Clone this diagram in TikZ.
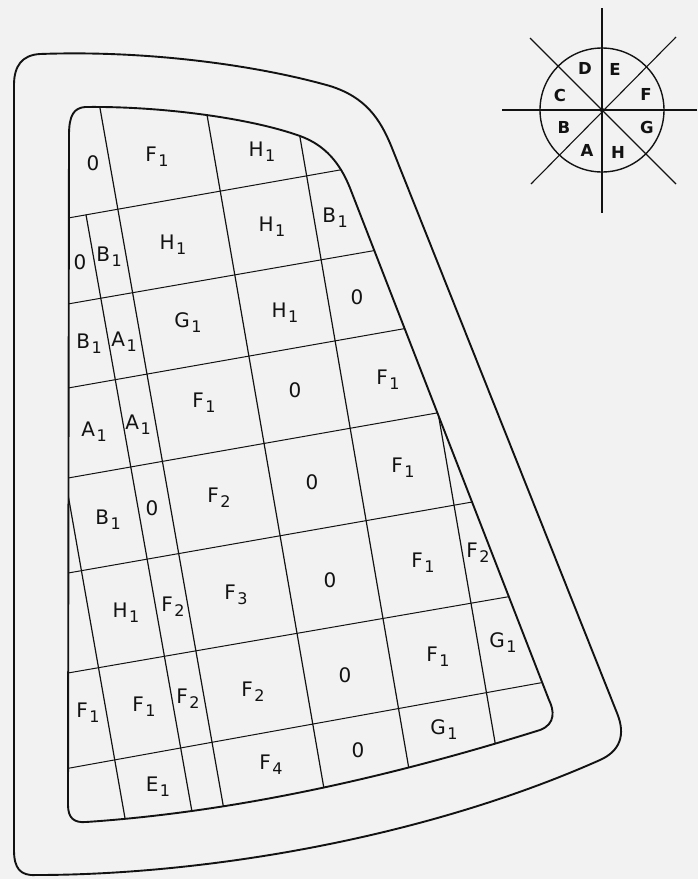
\documentclass[tikz,border=0pt]{standalone}
\usepackage{fontspec}
\newfontfamily\lfont{DejaVu Sans}
\definecolor{ink}{RGB}{18,18,18}
\definecolor{bg}{RGB}{242,242,242}
\newcommand{\labsub}[2]{#1\kern1.5pt\raisebox{-5pt}{\fontsize{16pt}{16pt}\selectfont #2}}
\begin{document}
\begin{tikzpicture}[x=1pt,y=-1pt,
  boundline/.style={line width=1.9pt, draw=ink, line join=round},
  rowline/.style={line width=1.0pt, draw=ink},
  colline/.style={line width=1.2pt, draw=ink},
  compline/.style={line width=1.1pt, draw=ink},
  lab/.style={font=\lfont\fontsize{20pt}{20pt}\selectfont, inner sep=0pt, text=ink},
  clab/.style={font=\lfont\bfseries\fontsize{16.5pt}{16.5pt}\selectfont, inner sep=0pt, text=ink}]
\fill[bg] (0,0) rectangle (698,879);
\useasboundingbox (0,0) rectangle (698,879);

% outer boundary
\draw[boundline] (14,85) -- (14,850) .. controls (14,868) and (20,876) .. (36,875)
  .. controls (200,875) and (420,840) .. (600,760)
  .. controls (620,751) and (626,735) .. (617,713)
  -- (392,148) .. controls (380,118) and (365,97) .. (330,86)
  .. controls (260,66) and (150,50) .. (40,54)
  .. controls (22,55) and (14,66) .. (14,85) -- cycle;

% grid, clipped to the inner boundary
\begin{scope}
\clip (69,135) -- (68,805) .. controls (68,818) and (74,823) .. (86,822)
  .. controls (235,812) and (390,777) .. (540,730)
  .. controls (556,724) and (554,710) .. (549,700)
  -- (350,188) .. controls (340,163) and (325,145) .. (300,136)
  .. controls (250,118) and (160,106) .. (85,107)
  .. controls (74,108) and (69,115) .. (69,135) -- cycle;
% row separators
\draw[rowline] (50,221.2) -- (380,162.9);
\draw[rowline] (50,307.1) -- (420,242.6);
\draw[rowline] (50,391.2) -- (450,320.6);
\draw[rowline] (50,481.2) -- (490,403.6);
\draw[rowline] (50,576.2) -- (520,493.6);
\draw[rowline] (50,676.1) -- (560,587.8);
\draw[rowline] (50,771.6) -- (580,675.7);
% column separators
\draw[colline] (96.8,90) -- (229.3,840);
\draw[colline] (202.7,90) -- (332.9,840);
\draw[colline] (295.3,110) -- (421.2,840);
\draw[colline] (432.4,380) -- (505,800);
\draw[colline] (63.7,470) -- (130.6,850);
\draw[colline] (86,214.8) -- (198.8,850);
\end{scope}

% inner boundary
\draw[boundline] (69,135) -- (68,805) .. controls (68,818) and (74,823) .. (86,822)
  .. controls (235,812) and (390,777) .. (540,730)
  .. controls (556,724) and (554,710) .. (549,700)
  -- (350,188) .. controls (340,163) and (325,145) .. (300,136)
  .. controls (250,118) and (160,106) .. (85,107)
  .. controls (74,108) and (69,115) .. (69,135) -- cycle;

% labels
\node[lab] (r1a) at (93,163) {0};
\node[lab] (r1b) at (157,157) {\labsub{F}{1}};
\node[lab] (r1c) at (262,152) {\labsub{H}{1}};

\node[lab] (r2a) at (80,262) {0};
\node[lab] (r2b) at (109,257) {\labsub{B}{1}};
\node[lab] (r2c) at (173,245) {\labsub{H}{1}};
\node[lab] (r2d) at (272,227) {\labsub{H}{1}};
\node[lab] (r2e) at (335,218) {\labsub{B}{1}};

\node[lab] (r3a) at (89,344) {\labsub{B}{1}};
\node[lab] (r3b) at (124,342) {\labsub{A}{1}};
\node[lab] (r3c) at (188,323) {\labsub{G}{1}};
\node[lab] (r3d) at (285,313) {\labsub{H}{1}};
\node[lab] (r3e) at (357,297) {0};

\node[lab] (r4a) at (94,432) {\labsub{A}{1}};
\node[lab] (r4b) at (138,425) {\labsub{A}{1}};
\node[lab] (r4c) at (204,403) {\labsub{F}{1}};
\node[lab] (r4d) at (295,390) {0};
\node[lab] (r4e) at (388,380) {\labsub{F}{1}};

\node[lab] (r5a) at (108,520) {\labsub{B}{1}};
\node[lab] (r5b) at (152,508) {0};
\node[lab] (r5c) at (219,498) {\labsub{F}{2}};
\node[lab] (r5d) at (312,482) {0};
\node[lab] (r5e) at (403,468) {\labsub{F}{1}};

\node[lab] (r6a) at (126,613) {\labsub{H}{1}};
\node[lab] (r6b) at (173,607) {\labsub{F}{2}};
\node[lab] (r6c) at (236,595) {\labsub{F}{3}};
\node[lab] (r6d) at (330,580) {0};
\node[lab] (r6e) at (423,563) {\labsub{F}{1}};
\node[lab] (r6f) at (478,553) {\labsub{F}{2}};

\node[lab] (r7a) at (88,713) {\labsub{F}{1}};
\node[lab] (r7b) at (144,707) {\labsub{F}{1}};
\node[lab] (r7c) at (188,699) {\labsub{F}{2}};
\node[lab] (r7d) at (253,692) {\labsub{F}{2}};
\node[lab] (r7e) at (345,675) {0};
\node[lab] (r7f) at (438,657) {\labsub{F}{1}};
\node[lab] (r7g) at (503,643) {\labsub{G}{1}};

\node[lab] (r8a) at (158,787) {\labsub{E}{1}};
\node[lab] (r8b) at (271,765) {\labsub{F}{4}};
\node[lab] (r8c) at (358,750) {0};
\node[lab] (r8d) at (444,730) {\labsub{G}{1}};

% compass rose
\coordinate (cc) at (602,110);
\coordinate (nN) at (602,8);
\coordinate (nS) at (602,213);
\coordinate (nW) at (502,110);
\coordinate (nE) at (697,110);
\coordinate (nNW) at (530,38);
\coordinate (nSE) at (676,184);
\coordinate (nNE) at (676,37);
\coordinate (nSW) at (531,184);
\draw[compline] (nN) -- (nS);
\draw[compline] (nW) -- (nE);
\draw[compline] (nNW) -- (nSE);
\draw[compline] (nNE) -- (nSW);
\draw[line width=1.4pt, draw=ink] (cc) circle[radius=62];
\fill[ink] (cc) circle[radius=2.2];
\node[clab] (cD) at (585,68) {D};
\node[clab] (cE) at (615,69) {E};
\node[clab] (cC) at (560,95) {C};
\node[clab] (cF) at (646,94) {F};
\node[clab] (cB) at (564,127) {B};
\node[clab] (cG) at (647,127) {G};
\node[clab] (cA) at (587,150) {A};
\node[clab] (cH) at (618,152) {H};
\end{tikzpicture}
\end{document}
